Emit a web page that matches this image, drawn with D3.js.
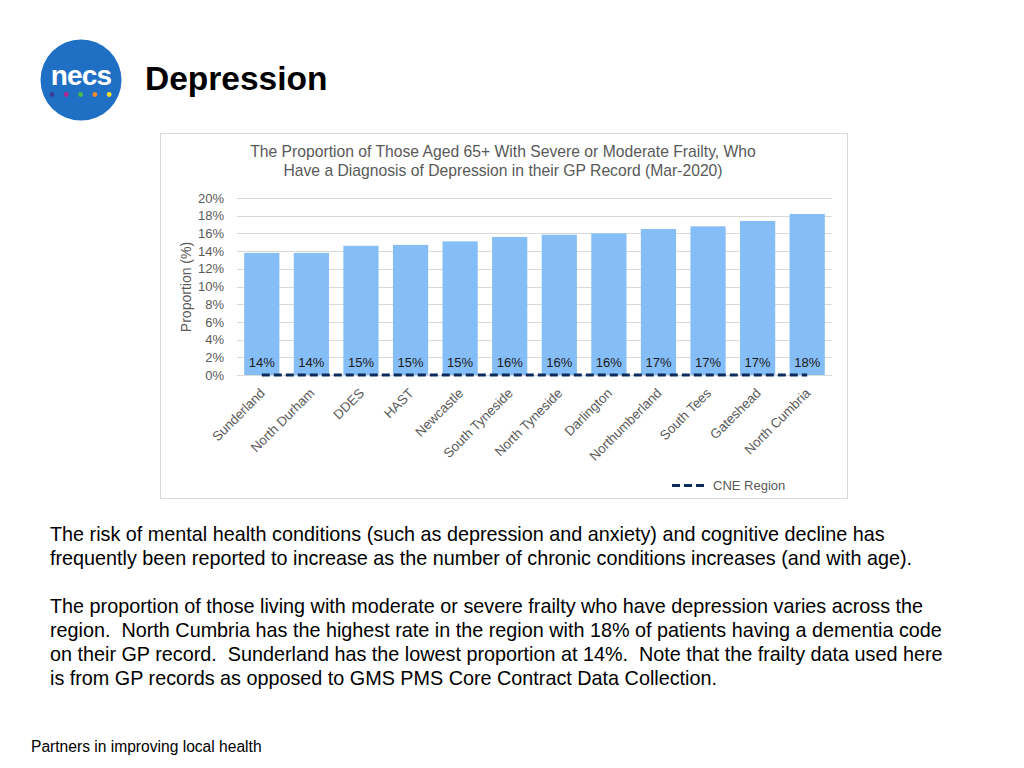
<!DOCTYPE html>
<html><head><meta charset="utf-8">
<script src="https://cdn.jsdelivr.net/npm/d3@7"></script>
<style>
html,body{margin:0;padding:0;background:#fff;}
svg{display:block;font-family:"Liberation Sans",Arial,sans-serif;}
text{white-space:pre;}
</style></head>
<body>
<svg id="c" width="1024" height="768"></svg>
<script>
const categories = ["Sunderland","North Durham","DDES","HAST","Newcastle","South Tyneside","North Tyneside","Darlington","Northumberland","South Tees","Gateshead","North Cumbria"];
const values = [13.8,13.8,14.6,14.7,15.1,15.6,15.85,16.0,16.5,16.8,17.4,18.2];
const labels = ["14%","14%","15%","15%","15%","16%","16%","16%","17%","17%","17%","18%"];
const cneValues = [0,0,0,0,0,0,0,0,0,0,0,0];
const yTicks = [0,2,4,6,8,10,12,14,16,18,20];
const titleLines = ["The Proportion of Those Aged 65+ With Severe or Moderate Frailty, Who","Have a Diagnosis of Depression in their GP Record (Mar-2020)"];
const bodyLines = [
 "The risk of mental health conditions (such as depression and anxiety) and cognitive decline has",
 "frequently been reported to increase as the number of chronic conditions increases (and with age).",
 "",
 "The proportion of those living with moderate or severe frailty who have depression varies across the",
 "region.  North Cumbria has the highest rate in the region with 18% of patients having a dementia code",
 "on their GP record.  Sunderland has the lowest proportion at 14%.  Note that the frailty data used here",
 "is from GP records as opposed to GMS PMS Core Contract Data Collection."
];
const dotColors = ["#3b3b9b","#b0268f","#4cb848","#f08a2c","#f2e12b"];

const svg = d3.select("#c");

// Logo
svg.append("circle").attr("cx",81).attr("cy",80).attr("r",40.5).attr("fill","#1f6fc5");
svg.append("text").attr("x",81).attr("y",85).attr("text-anchor","middle")
  .attr("font-size",28).attr("font-weight","bold").attr("fill","#fff").attr("letter-spacing",-0.8).text("necs");
dotColors.forEach((c,i)=>{
  svg.append("circle").attr("cx",52+i*14.3).attr("cy",94.5).attr("r",2.4).attr("fill",c);
});
svg.append("text").attr("x",145).attr("y",90).attr("font-size",33.5).attr("font-weight","bold").attr("fill","#000").text("Depression");

// Chart frame
svg.append("rect").attr("x",160.5).attr("y",133.5).attr("width",687).attr("height",365)
  .attr("fill","#fff").attr("stroke","#d9d9d9");
titleLines.forEach((t,i)=>{
  svg.append("text").attr("x",503).attr("y",157+i*18.5).attr("text-anchor","middle")
    .attr("font-size",15.7).attr("fill","#595959").text(t);
});

const x = d3.scaleBand().domain(categories).range([237,832]).paddingInner(0.29).paddingOuter(0.145);
const y = d3.scaleLinear().domain([0,20]).range([375,198]);

const g = svg.append("g");
// gridlines
g.selectAll("line.grid").data(yTicks).join("line")
  .attr("x1",237).attr("x2",832).attr("y1",d=>Math.round(y(d))+0.5).attr("y2",d=>Math.round(y(d))+0.5)
  .attr("stroke","#d9d9d9").attr("stroke-width",1);

const yAxis = g.append("g").attr("transform","translate(237,0)")
  .call(d3.axisLeft(y).tickValues(yTicks).tickFormat(d=>d+"%").tickSize(0).tickPadding(13));
yAxis.select(".domain").remove();
yAxis.selectAll("text").attr("font-size",13).attr("fill","#595959").attr("font-family","Liberation Sans, Arial, sans-serif");

svg.append("text").attr("transform","translate(191,287) rotate(-90)").attr("text-anchor","middle")
  .attr("font-size",14).attr("fill","#595959").text("Proportion (%)");

// bars
g.selectAll("rect.bar").data(values).join("rect")
  .attr("x",(d,i)=>x(categories[i])).attr("width",x.bandwidth())
  .attr("y",d=>y(d)).attr("height",d=>y(0)-y(d)).attr("fill","#85bdf7");

g.selectAll("text.lab").data(labels).join("text")
  .attr("x",(d,i)=>x(categories[i])+x.bandwidth()/2).attr("y",367)
  .attr("text-anchor","middle").attr("font-size",13).attr("fill","#1a1a1a").text(d=>d);

// CNE region dashed line
const line = d3.line().x((d,i)=>x(categories[i])+x.bandwidth()/2).y(d=>y(d));
g.append("path").datum(cneValues).attr("d",line).attr("fill","none")
  .attr("stroke","#0d2a5c").attr("stroke-width",3).attr("stroke-dasharray","8,4");

// x axis labels
const xAxis = g.append("g").attr("transform","translate(0,375)")
  .call(d3.axisBottom(x).tickSize(0).tickPadding(0));
xAxis.select(".domain").remove();
xAxis.selectAll("text").attr("font-size",13.3).attr("fill","#595959")
  .attr("font-family","Liberation Sans, Arial, sans-serif")
  .attr("text-anchor","end").attr("dy",0)
  .attr("transform","translate(4,19) rotate(-45)");

// legend
svg.append("line").attr("x1",672).attr("x2",706).attr("y1",485.5).attr("y2",485.5)
  .attr("stroke","#0d2a5c").attr("stroke-width",3).attr("stroke-dasharray","8,4");
svg.append("text").attr("x",713).attr("y",490).attr("font-size",13).attr("fill","#595959").text("CNE Region");

// body text
bodyLines.forEach((t,i)=>{
  if(!t) return;
  svg.append("text").attr("x",50).attr("y",541+i*24).attr("font-size",19.8).attr("fill","#000").text(t);
});
svg.append("text").attr("x",31).attr("y",752).attr("font-size",15.6).attr("fill","#000").text("Partners in improving local health");
</script>
</body></html>
